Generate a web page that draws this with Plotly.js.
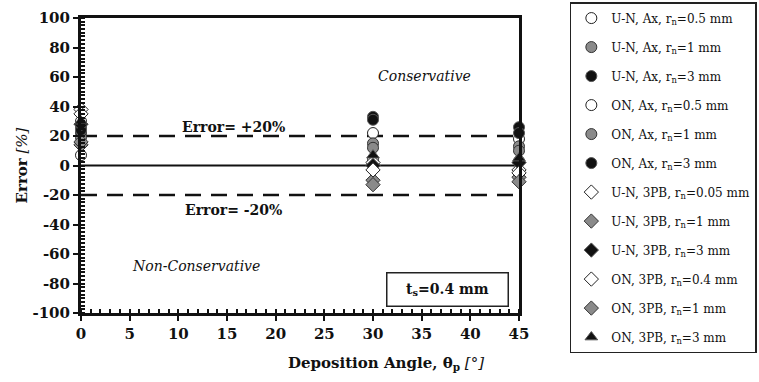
<!DOCTYPE html>
<html>
<head>
<meta charset="utf-8">
<script src="https://cdn.plot.ly/plotly-3.0.1.min.js"></script>
<style>html,body{margin:0;padding:0;background:#fff}#chart{width:759px;height:382px}</style>
</head>
<body>
<div id="chart"></div>
<script>
// Deposition angles (x)
const angles = [0, 30, 45];

// Series names
const seriesNames = [
  "U-N, Ax, r<sub>n</sub>=0.5 mm",
  "U-N, Ax, r<sub>n</sub>=1 mm",
  "U-N, Ax, r<sub>n</sub>=3 mm",
  "ON, Ax, r<sub>n</sub>=0.5 mm",
  "ON, Ax, r<sub>n</sub>=1 mm",
  "ON, Ax, r<sub>n</sub>=3 mm",
  "U-N, 3PB, r<sub>n</sub>=0.05 mm",
  "U-N, 3PB, r<sub>n</sub>=1 mm",
  "U-N, 3PB, r<sub>n</sub>=3 mm",
  "ON, 3PB, r<sub>n</sub>=0.4 mm",
  "ON, 3PB, r<sub>n</sub>=1 mm",
  "ON, 3PB, r<sub>n</sub>=3 mm"
];

// Error values [%] at 0, 30, 45 deg
const unAx05  = [30, 22, 18];
const unAx1   = [22, 15, 13];
const unAx3   = [26, 33, 26];
const onAx05  = [7, 4, 3];
const onAx1   = [19, 12, 10];
const onAx3   = [24, 31, 22];
const un3pb005 = [38, 2, -3];
const un3pb1  = [14, -10, -8];
const un3pb3  = [28, 0, 2];
const on3pb04 = [35, -3, -5];
const on3pb1  = [16, -13, -11];
const on3pb3  = [30, 7, 5];

const seriesValues = [unAx05, unAx1, unAx3, onAx05, onAx1, onAx3,
                      un3pb005, un3pb1, un3pb3, on3pb04, on3pb1, on3pb3];

// Reference lines
const zeroLine = [0];
const limits = [20, -20];

const xTicks = [0, 5, 10, 15, 20, 25, 30, 35, 40, 45];
const yTicks = [-100, -80, -60, -40, -20, 0, 20, 40, 60, 80, 100];

// Styles
const symbols = ["circle","circle","circle","circle","circle","circle",
                 "diamond","diamond","diamond","diamond","diamond","triangle-up"];
const fills = ["#ffffff","#8a8a8a","#111111","#ffffff","#8a8a8a","#111111",
               "#ffffff","#8a8a8a","#111111","#ffffff","#8a8a8a","#111111"];
const lines = ["#222","#333","#555","#222","#333","#555",
               "#222","#333","#555","#222","#333","#555"];

const FONT = "DejaVu Serif";

const traces = seriesValues.map((vals, i) => ({
  type: "scatter",
  mode: "markers",
  x: angles,
  y: vals,
  name: seriesNames[i],
  legendgroup: "g" + i,
  marker: {symbol: symbols[i], size: 11, color: fills[i], line: {color: lines[i], width: 1}},
  cliponaxis: false
}));

const shapes = [];
zeroLine.forEach(v => shapes.push({type:"line", xref:"paper", x0:0, x1:1, yref:"y", y0:v, y1:v,
  line:{color:"#111", width:2}, layer:"below"}));
limits.forEach(v => shapes.push({type:"line", xref:"paper", x0:0, x1:1, yref:"y", y0:v, y1:v,
  line:{color:"#111", width:2.5, dash:"16px,10px"}, layer:"below"}));

const layout = {
  width: 759, height: 382,
  margin: {l: 81, r: 240, t: 18, b: 69, autoexpand: false},
  paper_bgcolor: "#fff", plot_bgcolor: "#fff",
  font: {family: FONT, color: "#111", size: 13},
  showlegend: true,
  legend: {
    x: 1.543, xanchor: "right", y: 1.054, yanchor: "top",
    bordercolor: "#222", borderwidth: 1.5, bgcolor: "#fff",
    font: {family: FONT, size: 12, color: "#111"},
    tracegroupgap: 10,
    traceorder: "grouped",
    itemwidth: 30,
    maxheight: 380
  },
  xaxis: {
    range: [0, 45], tickvals: xTicks, ticktext: xTicks.map(String),
    showgrid: false, zeroline: false,
    showline: true, linecolor: "#111", linewidth: 3, mirror: true,
    ticks: "outside", ticklen: 5, tickwidth: 2, tickcolor: "#111",
    minor: {dtick: 1, ticks: "inside", ticklen: 4, tickwidth: 2, tickcolor: "#111"},
    tickfont: {family: FONT, size: 15, color: "#111", weight: "bold"}
  },
  yaxis: {
    range: [-100, 100], tickvals: yTicks, ticktext: yTicks.map(String),
    showgrid: false, zeroline: false,
    showline: true, linecolor: "#111", linewidth: 3, mirror: true,
    ticks: "outside", ticklen: 5, tickwidth: 2, tickcolor: "#111",
    minor: {dtick: 2.5, ticks: "inside", ticklen: 4, tickwidth: 2, tickcolor: "#111"},
    tickfont: {family: FONT, size: 15, color: "#111", weight: "bold"},
    title: {text: "<b>Error</b> <i>[%]</i>", font: {family: FONT, size: 15, color: "#111"}, standoff: 2}
  },
  shapes: shapes,
  annotations: [
    {xref:"paper", yref:"paper", x: 0.697, y: -0.17, xanchor:"center", yanchor:"middle", showarrow:false,
     text:"<b>Deposition Angle, θ<sub>p</sub></b> <i>[°]</i>", font:{family:FONT, size:15, color:"#111"}},
    {xref:"x", yref:"y", x: 35.3, y: 61, showarrow:false, text:"<i>Conservative</i>",
     font:{family:FONT, size:14, color:"#111"}},
    {xref:"x", yref:"y", x: 11.8, y: -68, showarrow:false, text:"<i>Non-Conservative</i>",
     font:{family:FONT, size:14, color:"#111"}},
    {xref:"x", yref:"y", x: 15.7, y: 26, showarrow:false, text:"<b>Error= +20%</b>",
     font:{family:FONT, size:14, color:"#111"}},
    {xref:"x", yref:"y", x: 15.7, y: -30, showarrow:false, text:"<b>Error= -20%</b>",
     font:{family:FONT, size:14, color:"#111"}},
    {xref:"x", yref:"y", x: 37.7, y: -84, showarrow:false, text:"<b>t<sub>s</sub>=0.4 mm</b>",
     font:{family:FONT, size:14, color:"#111"}, bordercolor:"#222", borderwidth:1.5,
     width: 118, height: 30, bgcolor:"#fff"}
  ]
};

Plotly.newPlot("chart", traces, layout, {displayModeBar: false, staticPlot: true});
</script>
</body>
</html>
